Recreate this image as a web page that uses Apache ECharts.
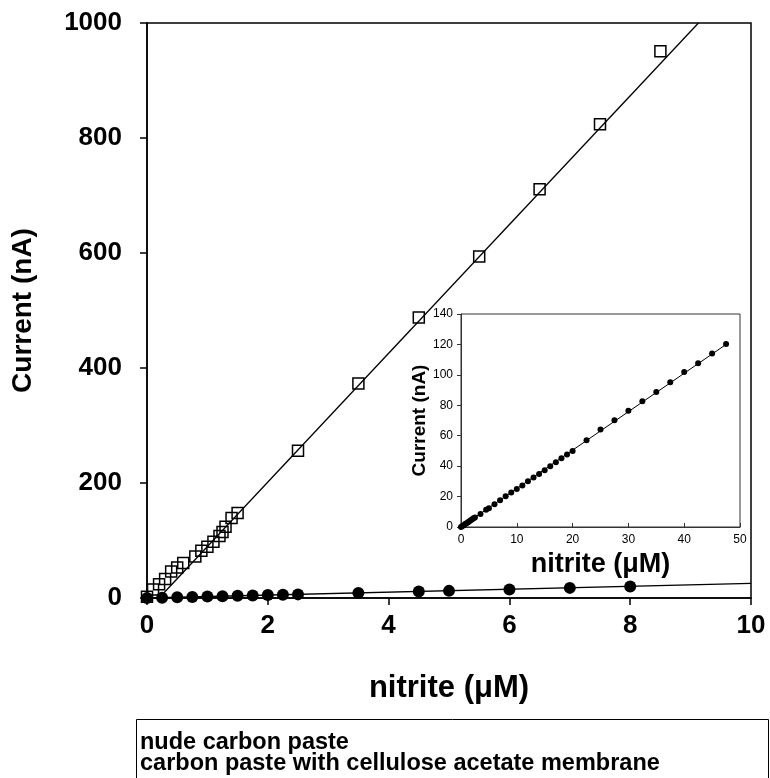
<!DOCTYPE html>
<html>
<head>
<meta charset="utf-8">
<title>Nitrite calibration</title>
<script src="https://cdn.jsdelivr.net/npm/echarts@6/dist/echarts.min.js"></script>
<style>
  html, body { margin: 0; padding: 0; background: #fff; }
  #chart { width: 770px; height: 778px; }
</style>
</head>
<body>
<div id="chart"></div>
<script>
  /* ---------- data ---------- */
  // nude carbon paste (open squares)
  const nudeX = [0, 0.1, 0.2, 0.3, 0.4, 0.5, 0.6, 0.8, 0.9, 1.0, 1.1, 1.2, 1.25, 1.3, 1.4, 1.5,
                 2.5, 3.5, 4.5, 5.5, 6.5, 7.5, 8.5];
  const nudeY = [2, 15, 24, 33, 46, 53, 61, 72, 82, 89, 98, 108, 115, 124, 139, 148,
                 256, 373, 488, 594, 711, 824, 951];
  // nude fit line, end points as drawn
  const nudeFitX = [0.2, 9.13];
  const nudeFitY = [0, 1000];

  // carbon paste with cellulose acetate membrane (filled circles, inset range)
  const membX = [0, 0.25, 0.5, 0.75, 1, 1.25, 1.5, 1.75, 2, 2.25, 2.5, 3.5, 4.5, 5, 6, 7, 8,
                 9, 10, 11, 12, 13, 14, 15, 16, 17, 18, 19, 20,
                 22.5, 25, 27.5, 30, 32.5, 35, 37.5, 40, 42.5, 45, 47.5];
  const membY = [0, 0.6, 1.2, 1.9, 2.5, 3.1, 3.8, 4.4, 5.1, 5.7, 6.3, 8.6, 11.4, 12.4, 14.9, 17.6, 20.2,
                 22.6, 25.0, 27.2, 30.1, 32.5, 34.9, 37.3, 39.9, 42.6, 45.2, 47.6, 50.0,
                 57.1, 64.1, 70.2, 76.4, 82.7, 88.7, 95.2, 101.8, 107.7, 114.1, 120.3];
  const membMainMaxX = 8; // main panel shows points up to 8 µM
  const membFitMainX = [0, 10];
  const membFitMainY = [0, 25.5];
  const membFitInsetX = [0, 47.5];
  const membFitInsetY = [0, 120];

  const NAME_NUDE = 'nude carbon paste';
  const NAME_MEMB = 'carbon paste with cellulose acetate membrane';

  function pairs(xs, ys) { return xs.map(function (x, i) { return [x, ys[i]]; }); }

  const membAll = pairs(membX, membY);
  const membMain = membAll.filter(function (p) { return p[0] <= membMainMaxX; });

  const FONT = 'Arial, "Liberation Sans", sans-serif';

  const chart = echarts.init(document.getElementById('chart'), null, { renderer: 'canvas' });

  const boldTick = { color: '#000', fontFamily: FONT, fontWeight: 'bold', fontSize: 26,
                     formatter: function (v) { return String(v); } };

  chart.setOption({
    backgroundColor: '#fff',
    animation: false,
    grid: [
      { left: 147, top: 23, right: 19, bottom: 180, show: true, borderColor: '#000', borderWidth: 1.5 },
      { left: 461, top: 314, right: 30, bottom: 251, show: true, borderColor: '#333', borderWidth: 1 }
    ],
    xAxis: [
      {
        gridIndex: 0, type: 'value', min: 0, max: 10, interval: 2,
        name: 'nitrite (\u03bcM)', nameLocation: 'middle', nameGap: 75,
        nameTextStyle: { color: '#000', fontFamily: FONT, fontWeight: 'bold', fontSize: 31 },
        axisLine: { onZero: false, lineStyle: { color: '#000', width: 1.5 } },
        axisTick: { inside: false, length: 7, lineStyle: { color: '#000', width: 1.5 } },
        axisLabel: Object.assign({ margin: 15 }, boldTick),
        splitLine: { show: false }
      },
      {
        gridIndex: 1, type: 'value', min: 0, max: 50, interval: 10,
        name: 'nitrite (\u03bcM)', nameLocation: 'middle', nameGap: 24,
        nameTextStyle: { color: '#000', fontFamily: FONT, fontWeight: 'bold', fontSize: 27 },
        axisLine: { onZero: false, lineStyle: { color: '#333', width: 1 } },
        axisTick: { inside: true, length: 4, lineStyle: { color: '#333' } },
        axisLabel: { margin: 7, color: '#000', fontFamily: FONT, fontSize: 12 },
        splitLine: { show: false }
      }
    ],
    yAxis: [
      {
        gridIndex: 0, type: 'value', min: 0, max: 1000, interval: 200,
        name: 'Current (nA)', nameLocation: 'middle', nameGap: 110,
        nameTextStyle: { color: '#000', fontFamily: FONT, fontWeight: 'bold', fontSize: 28 },
        axisLine: { onZero: false, lineStyle: { color: '#000', width: 1.5 } },
        axisTick: { inside: false, length: 7, lineStyle: { color: '#000', width: 1.5 } },
        axisLabel: Object.assign({ margin: 25 }, boldTick),
        splitLine: { show: false }
      },
      {
        gridIndex: 1, type: 'value', min: 0, max: 140, interval: 20,
        name: 'Current (nA)', nameLocation: 'middle', nameGap: 25,
        nameTextStyle: { color: '#000', fontFamily: FONT, fontWeight: 'bold', fontSize: 19 },
        axisLine: { onZero: false, lineStyle: { color: '#333', width: 1 } },
        axisTick: { inside: false, length: 4, lineStyle: { color: '#333' } },
        axisLabel: { margin: 8, color: '#000', fontFamily: FONT, fontSize: 12 },
        splitLine: { show: false }
      }
    ],
    legend: {
      data: [NAME_NUDE, NAME_MEMB],
      orient: 'vertical', left: 135, top: 731, height: 120, width: 630, padding: 0, itemGap: -3,
      icon: 'none', itemWidth: 0, itemHeight: 10, selectedMode: false,
      textStyle: { color: '#000', fontFamily: FONT, fontWeight: 'bold', fontSize: 23.5, lineHeight: 20 }
    },
    graphic: [
      { type: 'rect', left: 134, top: 717, shape: { width: 632, height: 80 },
        style: { fill: 'none', stroke: '#000', lineWidth: 1 }, silent: true }
    ],
    series: [
      {
        name: 'nude fit', type: 'line', xAxisIndex: 0, yAxisIndex: 0,
        data: pairs(nudeFitX, nudeFitY), showSymbol: false, symbol: 'none', clip: false,
        lineStyle: { color: '#000', width: 1.3 }, z: 2
      },
      {
        name: 'membrane fit', type: 'line', xAxisIndex: 0, yAxisIndex: 0,
        data: pairs(membFitMainX, membFitMainY), showSymbol: false, symbol: 'none',
        lineStyle: { color: '#000', width: 1.3 }, z: 2
      },
      {
        name: NAME_NUDE, type: 'scatter', xAxisIndex: 0, yAxisIndex: 0,
        data: pairs(nudeX, nudeY), symbol: 'rect', symbolSize: 11,
        itemStyle: { color: 'rgba(0,0,0,0)', borderColor: '#000', borderWidth: 1.5, opacity: 1 }, z: 3
      },
      {
        name: NAME_MEMB, type: 'scatter', xAxisIndex: 0, yAxisIndex: 0,
        data: membMain, symbol: 'circle', symbolSize: 12,
        itemStyle: { color: '#000', opacity: 1 }, z: 3
      },
      {
        name: 'inset fit', type: 'line', xAxisIndex: 1, yAxisIndex: 1,
        data: pairs(membFitInsetX, membFitInsetY), showSymbol: false, symbol: 'none',
        lineStyle: { color: '#000', width: 1 }, z: 2
      },
      {
        name: 'inset ' + NAME_MEMB, type: 'scatter', xAxisIndex: 1, yAxisIndex: 1,
        data: membAll, symbol: 'circle', symbolSize: 6,
        itemStyle: { color: '#000', opacity: 1 }, z: 3
      }
    ]
  });
</script>
</body>
</html>
